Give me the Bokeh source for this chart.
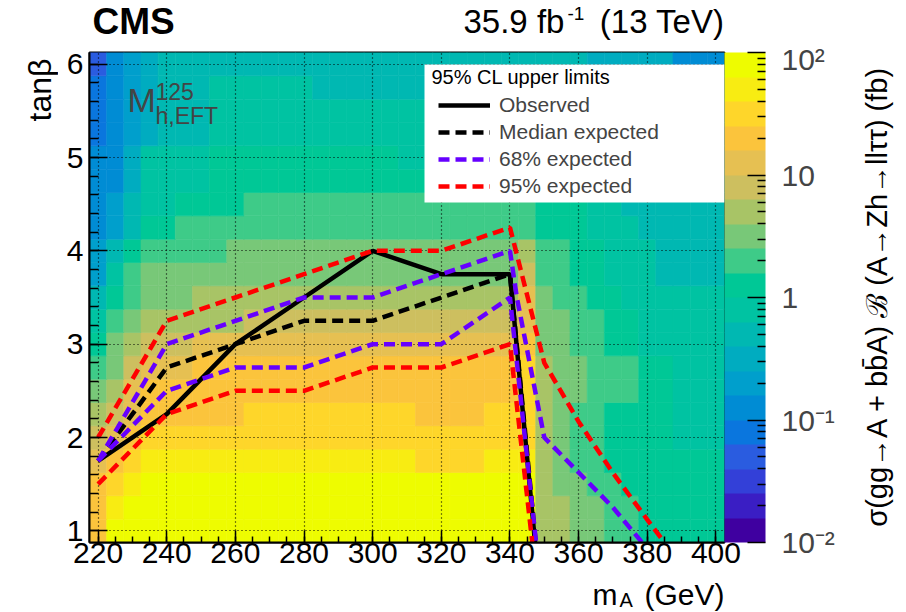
import math
from bokeh.plotting import figure
from bokeh.layouts import row, column
from bokeh.models import (ColumnDataSource, LogColorMapper, ColorBar, FixedTicker,
                          CustomJSTickFormatter, Label, Legend, LegendItem, BoxAnnotation, Range1d)
from bokeh.transform import log_cmap
from bokeh.core.properties import value
from bokeh.embed import file_html
from bokeh.resources import INLINE

# ---------------- data ----------------
MA_BINS = list(range(220, 401, 5))               # m_A bin centres (GeV)
TANB_BINS = [1.0 + 0.25 * j for j in range(21)]  # tan(beta) bin centres
X_TICKS = [220, 240, 260, 280, 300, 320, 340, 360, 380, 400]
Y_TICKS = [1, 2, 3, 4, 5, 6]
CB_TICKS = [0.01, 0.1, 1, 10, 100]
Z_LOW, Z_HIGH = 0.01, 100.0

PALETTE = ["#3f00a0", "#3a1ec4", "#3340d8", "#2a5ce0", "#0a76de", "#008cd4", "#009fcc",
           "#00acc0", "#00b8b2", "#00c3a2", "#00c896", "#3ecb88", "#78c878", "#a8c466",
           "#cdbf5f", "#e6c052", "#fbc43c", "#fed62a", "#f8ec12", "#eefc00"]
LEVEL_CODES = "0123456789ABCDEFGHIJ"
# colour level read per cell (run-length: level char + count), rows from tanb=1.0 upward
LEVEL_ROWS = [
    "G1 J25 D2 C2 B2 A5",
    "G1 I1 J24 D2 C2 B2 A5",
    "G1 H1 I1 J23 D1 C2 B2 A6",
    "F1 G1 H1 I16 H4 I3 D1 C1 B2 A7",
    "E1 F1 G1 H23 D1 C1 B2 A4 93",
    "D1 E1 F1 G6 H10 G4 H3 D1 C1 B2 A4 93",
    "C1 D1 F1 G22 H1 D1 C2 B3 A2 93",
    "B1 C1 E1 F3 G19 H1 D1 C2 B3 A2 93",
    "A1 C1 D1 E3 F19 G1 C2 B2 A2 95",
    "91 B1 C1 D6 E16 F1 C2 B2 A2 95",
    "81 A1 B1 C3 D19 F1 C1 B2 A2 96",
    "61 91 B1 C22 E1 B2 A2 93 84",
    "61 81 A1 B5 C17 D1 B2 A2 93 84",
    "51 61 81 A2 B21 A3 93 85",
    "51 61 81 92 A4 B17 A3 92 86",
    "52 71 94 A20 93 87",
    "52 71 94 A11 912 84 73",
    "41 51 61 71 83 921 85 74",
    "41 51 61 71 83 920 85 75",
    "41 51 61 71 83 96 816 75 63",
    "31 51 61 71 825 75 53",
]

OBS_MA = [220, 240, 260, 280, 300, 320, 340, 347.3]
OBS_TB = [1.75, 2.25, 3.0, 3.5, 4.0, 3.75, 3.75, 0.875]
EXP_MA = [220, 240, 260, 280, 300, 320, 340, 347.5]
EXP_TB = [1.75, 2.75, 3.0, 3.25, 3.25, 3.5, 3.75, 0.875]
P68_UP_MA = [220, 240, 260, 280, 300, 320, 340, 342, 350, 360, 370, 378.5]
P68_UP_TB = [1.75, 3.0, 3.25, 3.5, 3.5, 3.75, 4.0, 3.5, 2.0, 1.625, 1.25, 0.875]
P68_LO_MA = [220, 240, 260, 280, 300, 320, 340, 347.6]
P68_LO_TB = [1.75, 2.5, 2.75, 2.75, 3.0, 3.0, 3.5, 0.875]
P95_UP_MA = [220, 240, 260, 280, 300, 320, 340, 350, 360, 370, 380, 385]
P95_UP_TB = [2.0, 3.25, 3.5, 3.75, 4.0, 4.0, 4.25, 2.8, 2.17, 1.62, 1.12, 0.875]
P95_LO_MA = [220, 240, 260, 280, 300, 320, 340, 346.5]
P95_LO_TB = [1.5, 2.25, 2.5, 2.5, 2.75, 2.75, 3.0, 0.875]

# ---------------- build cells ----------------
nlev = len(PALETTE)
lmin, lmax = math.log10(Z_LOW), math.log10(Z_HIGH)
xs, ys, zs = [], [], []
for j, rowspec in enumerate(LEVEL_ROWS):
    levels = []
    for tok in rowspec.split():
        levels += [LEVEL_CODES.index(tok[0])] * int(tok[1:])
    if len(levels) != len(MA_BINS):
        raise ValueError("row %d has %d cells" % (j, len(levels)))
    for i, lv in enumerate(levels):
        xs.append(MA_BINS[i])
        ys.append(TANB_BINS[j])
        zs.append(10 ** (lmin + (lv + 0.5) * (lmax - lmin) / nlev))
src = ColumnDataSource(dict(ma=xs, tb=ys, z=zs))

# ---------------- page geometry ----------------
X_LO, X_HI = 217.5, 402.5
Y_LO, Y_HI = 0.875, 6.125
PAGE_W, PAGE_H = 902, 611
TOP_H = 42          # top text strip height
MID_Y1 = 576        # bottom of the middle row
LEFT_W = 58         # left strip width
MAIN_X1 = 856       # right end of main figure
FL, FR, FT, FB = 89, 724, 52, 542   # frame edges on the page
FONT = "Liberation Sans"

def dx(px):
    return X_LO + (px - FL) * (X_HI - X_LO) / (FR - FL)

def dy(py):
    return Y_LO + (FB - py) * (Y_HI - Y_LO) / (FB - FT)

def strip(x0, x1, y0, y1, fy0=None, fy1=None):
    """text-only figure; page pixel coordinates are its data coordinates"""
    if fy0 is None:
        fy0, fy1 = y0, y1
    f = figure(width=x1 - x0, height=y1 - y0, output_backend="svg", toolbar_location=None,
               x_range=Range1d(x0, x1), y_range=Range1d(fy1, fy0),
               x_axis_location=None, y_axis_location=None,
               min_border_left=0, min_border_right=0,
               min_border_top=fy0 - y0, min_border_bottom=y1 - fy1,
               background_fill_color="white", border_fill_color="white")
    f.outline_line_color = None
    f.xgrid.visible = False
    f.ygrid.visible = False
    return f

def put(f, x, ymid, text, size_px, align="left", style="normal", angle=0.0):
    f.text(x=[x], y=[ymid], text=[text], text_font=value(FONT),
           text_font_size=value("%dpx" % size_px), text_align=align, text_baseline="middle",
           text_font_style=style, text_color="black", angle=angle)

# ---------------- main figure ----------------
p = figure(width=MAIN_X1 - LEFT_W, height=MID_Y1 - TOP_H, output_backend="svg",
           toolbar_location=None, x_range=Range1d(X_LO, X_HI), y_range=Range1d(Y_LO, Y_HI),
           min_border_left=FL - LEFT_W, min_border_right=MAIN_X1 - FR,
           min_border_top=FT - TOP_H, min_border_bottom=MID_Y1 - FB,
           background_fill_color="white", border_fill_color="white")
p.outline_line_color = "black"
p.outline_line_width = 2

p.rect(x="ma", y="tb", width=5, height=0.25, source=src,
       fill_color=log_cmap("z", PALETTE, Z_LOW, Z_HIGH),
       line_color=log_cmap("z", PALETTE, Z_LOW, Z_HIGH), line_width=0.6, level="image")

p.xaxis.ticker = FixedTicker(ticks=X_TICKS, minor_ticks=list(range(220, 401, 5)))
p.yaxis.ticker = FixedTicker(ticks=Y_TICKS, minor_ticks=[round(1 + 0.2 * k, 2) for k in range(26)])
for ax in (p.xaxis[0], p.yaxis[0]):
    ax.major_label_text_font = FONT
    ax.major_label_text_font_size = "30px"
    ax.major_label_text_color = "black"
    ax.axis_line_color = "black"
    ax.axis_line_width = 2
    ax.major_tick_line_color = "black"
    ax.minor_tick_line_color = "black"
    ax.major_tick_line_width = 1.5
    ax.minor_tick_line_width = 1.5
    ax.major_tick_out = 0
    ax.minor_tick_out = 0
p.xaxis.major_tick_in = 12
p.xaxis.minor_tick_in = 6
p.yaxis.major_tick_in = 18
p.yaxis.minor_tick_in = 9
p.xaxis.major_label_standoff = 0
p.yaxis.major_label_standoff = 6

for g in (p.xgrid[0], p.ygrid[0]):
    g.grid_line_color = "black"
    g.grid_line_dash = "1 3"
    g.grid_line_width = 1.2

DASH = "11 6"
r_obs = p.line(OBS_MA, OBS_TB, line_color="black", line_width=4.5)
r_exp = p.line(EXP_MA, EXP_TB, line_color="black", line_width=4.5, line_dash=DASH)
r68u = p.line(P68_UP_MA, P68_UP_TB, line_color="#6600ff", line_width=4.5, line_dash=DASH)
r68l = p.line(P68_LO_MA, P68_LO_TB, line_color="#6600ff", line_width=4.5, line_dash=DASH)
r95u = p.line(P95_UP_MA, P95_UP_TB, line_color="#ff0000", line_width=4.5, line_dash=DASH)
r95l = p.line(P95_LO_MA, P95_LO_TB, line_color="#ff0000", line_width=4.5, line_dash=DASH)

p.add_layout(BoxAnnotation(left=dx(424), right=X_HI, top=dy(64), bottom=dy(202),
                           fill_color="white", fill_alpha=1.0, line_color=None, level="annotation"))
p.add_layout(Label(x=dx(431), y=dy(87), text="95% CL upper limits", text_font=FONT,
                   text_font_size="20px", text_color="black"))
legend = Legend(items=[LegendItem(label="Observed", renderers=[r_obs]),
                       LegendItem(label="Median expected", renderers=[r_exp]),
                       LegendItem(label="68% expected", renderers=[r68u]),
                       LegendItem(label="95% expected", renderers=[r95u])],
                location=(436 - FL, FB - 200), padding=2, spacing=3,
                glyph_width=52, glyph_height=24, label_standoff=9,
                label_text_font=FONT, label_text_font_size="21px",
                background_fill_alpha=0, border_line_alpha=0, margin=0)
p.add_layout(legend)

p.add_layout(Label(x=dx(127), y=dy(118), text="M", text_font=FONT, text_font_size="34px"))
p.add_layout(Label(x=dx(155), y=dy(99), text="125", text_font=FONT, text_font_size="23px"))
p.add_layout(Label(x=dx(155), y=dy(128), text="h,EFT", text_font=FONT, text_font_size="23px"))

cmapper = LogColorMapper(palette=PALETTE, low=Z_LOW, high=Z_HIGH)
cb_minor = [k * 10.0 ** e for e in (-2, -1, 0, 1) for k in range(2, 10)]
cb_fmt = CustomJSTickFormatter(code="""
const e = Math.round(Math.log10(tick));
if (e === 0) return "1";
if (e === 1) return "10";
if (e === 2) return "10\u00b2";
if (e === -1) return "10\u207b\u00b9";
return "10\u207b\u00b2";
""")
cb = ColorBar(color_mapper=cmapper, width=41, padding=0, margin=3,
              ticker=FixedTicker(ticks=CB_TICKS, minor_ticks=cb_minor), formatter=cb_fmt,
              major_label_text_font=FONT, major_label_text_font_size="30px",
              label_standoff=16,
              major_tick_line_color="black", major_tick_in=18, major_tick_out=0,
              minor_tick_line_color="black", minor_tick_in=8, minor_tick_out=0,
              major_tick_line_width=1.5, minor_tick_line_width=1.5,
              bar_line_color=None, border_line_color=None, background_fill_alpha=0)
p.add_layout(cb, "right")

# ---------------- surrounding text figures ----------------
top_fig = strip(0, PAGE_W, 0, TOP_H)
put(top_fig, 92, 21, "CMS", 37, style="bold")
put(top_fig, 463, 21, "35.9 fb", 33)
put(top_fig, 567, 13, "-1", 19)
put(top_fig, 724, 21, "(13 TeV)", 33, align="right")

left_fig = strip(0, LEFT_W, TOP_H, MID_Y1, FT, FB)
put(left_fig, 39, 58, "tan\u03b2", 32, align="right", angle=math.pi / 2)

title_fig = strip(MAIN_X1, PAGE_W, TOP_H, MID_Y1, FT, FB)
put(title_fig, 876, 296,
    "\u03c3(gg\u2192A + bb\u0304A) \u212c (A\u2192Zh\u2192ll\u03c4\u03c4) (fb)",
    29, align="center", angle=math.pi / 2)

bot_fig = strip(0, PAGE_W, MID_Y1, PAGE_H)
put(bot_fig, 592, 593.5, "m", 30)
put(bot_fig, 619, 599.5, "A", 20)
put(bot_fig, 724, 593.5, "(GeV)", 30, align="right")

layout = column(top_fig, row(left_fig, p, title_fig), bot_fig)

with open("out.html", "w", encoding="utf-8") as f:
    f.write(file_html(layout, INLINE, title="CMS A->Zh limits"))
